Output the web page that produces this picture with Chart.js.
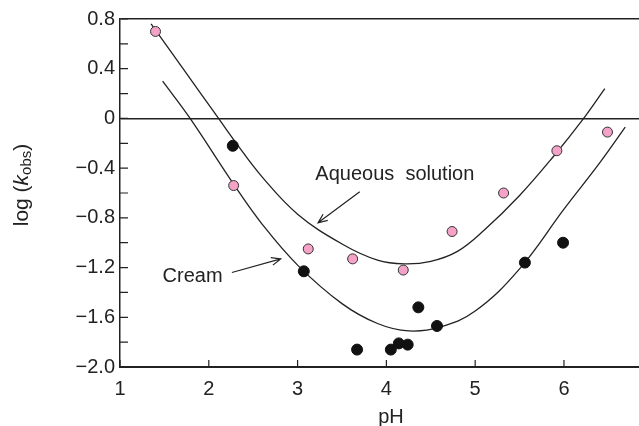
<!DOCTYPE html>
<html>
<head>
<meta charset="utf-8">
<script src="https://cdn.jsdelivr.net/npm/chart.js@4/dist/chart.umd.min.js"></script>
<style>
  body { margin: 0; background: #fff; }
  canvas { display: block; }
</style>
</head>
<body>
<canvas id="chart" width="639" height="426"></canvas>
<script>
// measured points, aqueous solution (pink) and cream (black)
const aqPH = [1.40, 2.28, 3.12, 3.62, 4.19, 4.74, 5.32, 5.92, 6.49]
const aqLog = [0.70, -0.54, -1.05, -1.13, -1.22, -0.91, -0.60, -0.26, -0.11]
const creamPH = [2.27, 3.07, 3.67, 4.05, 4.14, 4.24, 4.36, 4.57, 5.56, 5.99]
const creamLog = [-0.22, -1.23, -1.86, -1.86, -1.81, -1.82, -1.52, -1.67, -1.16, -1.00]

// fitted curves
const upperPH = [1.35, 1.7, 2.1, 2.3, 2.6, 3.0, 3.5, 3.9, 4.2, 4.5, 4.8, 5.1, 5.5, 5.9, 6.2, 6.46]
const upperLog = [0.76, 0.41, 0.01, -0.19, -0.47, -0.77, -1.01, -1.14, -1.17, -1.15, -1.07, -0.90, -0.62, -0.29, -0.02, 0.24]
const lowerPH = [1.48, 1.78, 2.29, 2.6, 3.0, 3.5, 3.9, 4.25, 4.6, 5.0, 5.5, 6.0, 6.4, 6.69]
const lowerLog = [0.30, 0.01, -0.54, -0.85, -1.18, -1.49, -1.65, -1.71, -1.68, -1.55, -1.21, -0.73, -0.36, -0.07]

const xTicks = [1, 2, 3, 4, 5, 6]
const yTicks = [-2.0, -1.8, -1.6, -1.4, -1.2, -1.0, -0.8, -0.6, -0.4, -0.2, 0, 0.2, 0.4, 0.6, 0.8]
const yLabelValues = [-2.0, -1.6, -1.2, -0.8, -0.4, 0, 0.4, 0.8]
const yLabels = ['\u22122.0', '\u22121.6', '\u22121.2', '\u22120.8', '\u22120.4', '0', '0.4', '0.8']

const FONT = '"Liberation Sans", Arial, Helvetica, sans-serif'
const INK = '#222'

function pts(xs, ys) {
  return xs.map((x, i) => ({ x: x, y: ys[i] }))
}

function arrow(ctx, x1, y1, x2, y2) {
  var a = Math.atan2(y2 - y1, x2 - x1)
  var len = 10
  ctx.beginPath()
  ctx.moveTo(x1, y1)
  ctx.lineTo(x2, y2)
  ctx.moveTo(x2 - len * Math.cos(a - 0.4), y2 - len * Math.sin(a - 0.4))
  ctx.lineTo(x2, y2)
  ctx.lineTo(x2 - len * Math.cos(a + 0.4), y2 - len * Math.sin(a + 0.4))
  ctx.stroke()
}

const decorations = {
  id: 'decorations',
  afterDraw(chart) {
    var ctx = chart.ctx
    var xs = chart.scales.x
    var ys = chart.scales.y
    var area = chart.chartArea
    ctx.save()
    ctx.strokeStyle = INK
    ctx.fillStyle = INK
    ctx.lineWidth = 1.2

    // inward ticks
    ctx.beginPath()
    xTicks.forEach(v => {
      var p = xs.getPixelForValue(v)
      ctx.moveTo(p, area.bottom)
      ctx.lineTo(p, area.bottom - 7)
    })
    yTicks.forEach(v => {
      var p = ys.getPixelForValue(v)
      ctx.moveTo(area.left, p)
      ctx.lineTo(area.left + 8, p)
    })
    ctx.stroke()

    // annotations
    ctx.font = '20px ' + FONT
    ctx.textBaseline = 'middle'
    ctx.textAlign = 'left'
    ctx.fillText('Aqueous  solution', xs.getPixelForValue(3.2), ys.getPixelForValue(-0.45))
    ctx.fillText('Cream', xs.getPixelForValue(1.48), ys.getPixelForValue(-1.27))
    arrow(ctx, xs.getPixelForValue(3.70), ys.getPixelForValue(-0.59),
      xs.getPixelForValue(3.23), ys.getPixelForValue(-0.84))
    arrow(ctx, xs.getPixelForValue(2.26), ys.getPixelForValue(-1.24),
      xs.getPixelForValue(2.81), ys.getPixelForValue(-1.13))

    // x title
    ctx.textAlign = 'center'
    ctx.font = '20px ' + FONT
    ctx.fillText('pH', 391, 417)

    // y title: log (k_obs)
    ctx.translate(22, 185)
    ctx.rotate(-Math.PI / 2)
    ctx.textAlign = 'left'
    var parts = [
      { t: 'log (', f: '21px ' + FONT, dy: 0 },
      { t: 'k', f: 'italic 21px ' + FONT, dy: 0 },
      { t: 'obs', f: '15px ' + FONT, dy: 5 },
      { t: ')', f: '21px ' + FONT, dy: 0 }
    ]
    var total = 0
    parts.forEach(p => { ctx.font = p.f; p.w = ctx.measureText(p.t).width; total += p.w })
    var cx = -total / 2
    parts.forEach(p => {
      ctx.font = p.f
      ctx.fillText(p.t, cx, p.dy)
      cx += p.w
    })
    ctx.restore()
  }
}

new Chart(document.getElementById('chart'), {
  type: 'scatter',
  data: {
    datasets: [
      {
        label: 'Aqueous solution',
        data: pts(aqPH, aqLog),
        backgroundColor: '#f4a2c8',
        borderColor: '#333',
        borderWidth: 1,
        pointRadius: 5
      },
      {
        label: 'Cream',
        data: pts(creamPH, creamLog),
        backgroundColor: '#111',
        borderColor: '#111',
        borderWidth: 1,
        pointRadius: 5.5
      },
      {
        label: 'Aqueous fit',
        data: pts(upperPH, upperLog),
        showLine: true,
        borderColor: INK,
        borderWidth: 1.3,
        pointRadius: 0,
        tension: 0.4
      },
      {
        label: 'Cream fit',
        data: pts(lowerPH, lowerLog),
        showLine: true,
        borderColor: INK,
        borderWidth: 1.3,
        pointRadius: 0,
        tension: 0.4
      }
    ]
  },
  options: {
    responsive: false,
    animation: false,
    layout: { autoPadding: false, padding: { top: 19, right: 0, left: 0, bottom: 0 } },
    plugins: {
      legend: { display: false },
      tooltip: { enabled: false }
    },
    scales: {
      x: {
        type: 'linear',
        min: 1,
        max: 6.845,
        afterFit: s => { s.height = 59; s.paddingRight = 0 },
        afterBuildTicks: s => { s.ticks = xTicks.map(v => ({ value: v })) },
        ticks: {
          autoSkip: false,
          maxRotation: 0,
          padding: 10,
          color: INK,
          font: { family: FONT, size: 20 },
          callback: v => String(v)
        },
        grid: { display: false, drawTicks: false },
        border: { display: true, color: INK, width: 2 }
      },
      y: {
        type: 'linear',
        min: -2.0,
        max: 0.8,
        afterFit: s => { s.width = 120 },
        afterBuildTicks: s => { s.ticks = yTicks.map(v => ({ value: v })) },
        ticks: {
          autoSkip: false,
          padding: 5,
          color: INK,
          font: { family: FONT, size: 20 },
          callback: v => {
            var i = yLabelValues.findIndex(m => Math.abs(m - v) < 1e-6)
            return i < 0 ? '' : yLabels[i]
          }
        },
        grid: {
          drawTicks: false,
          lineWidth: 1.4,
          color: c => (c.tick && (Math.abs(c.tick.value) < 1e-6 || Math.abs(c.tick.value - 0.8) < 1e-6)) ? INK : 'rgba(0,0,0,0)'
        },
        border: { display: true, color: INK, width: 1.5 }
      }
    }
  },
  plugins: [decorations]
})
</script>
</body>
</html>
